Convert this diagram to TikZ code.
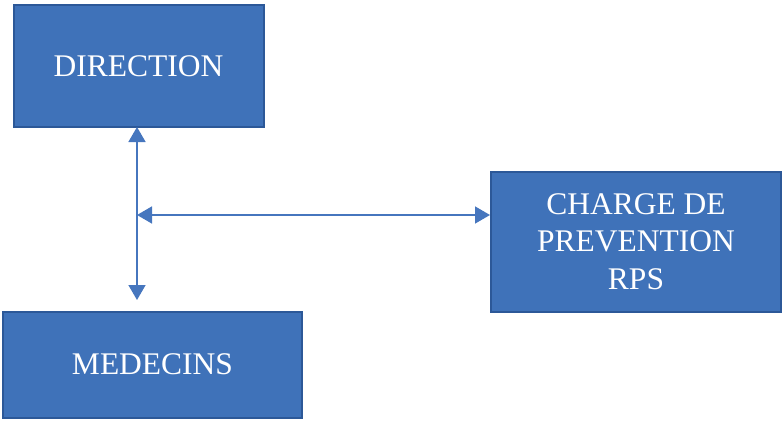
\documentclass[tikz,border=0pt]{standalone}
\usepackage{fontspec}
\setmainfont{Liberation Serif}
\usetikzlibrary{arrows.meta}
\definecolor{boxfill}{HTML}{3F72B9}
\definecolor{boxline}{HTML}{2C5898}
\definecolor{arrowc}{HTML}{4676BE}
\tikzset{
  box/.style={draw=boxline, line width=2pt, fill=boxfill, text=white, inner sep=0pt,
    font=\fontsize{31.5pt}{37.5pt}\selectfont, align=center},
  link/.style={draw=arrowc, line width=1.5pt, {Triangle[width=17pt,length=15pt]}-{Triangle[width=17pt,length=15pt]}}
}
\begin{document}
\begin{tikzpicture}[x=1pt,y=-1pt]
\useasboundingbox (0,0) rectangle (783,420);
\node[box, minimum width=250pt, minimum height=121pt] (dir) at (138.5,66) {DIRECTION};
\node[box, minimum width=290pt, minimum height=140pt] (rps) at (636,241.5) {CHARGE DE\\PREVENTION\\RPS};
\node[box, minimum width=299pt, minimum height=106pt] (med) at (152.5,364.5) {MEDECINS};
\coordinate (top) at (137,127);
\coordinate (bot) at (137,300);
\coordinate (mid) at (137,215);
\coordinate (rin) at (rps.west |- mid);
\draw[link] (top) -- (bot);
\draw[link] (mid) -- (rin);
\end{tikzpicture}
\end{document}
